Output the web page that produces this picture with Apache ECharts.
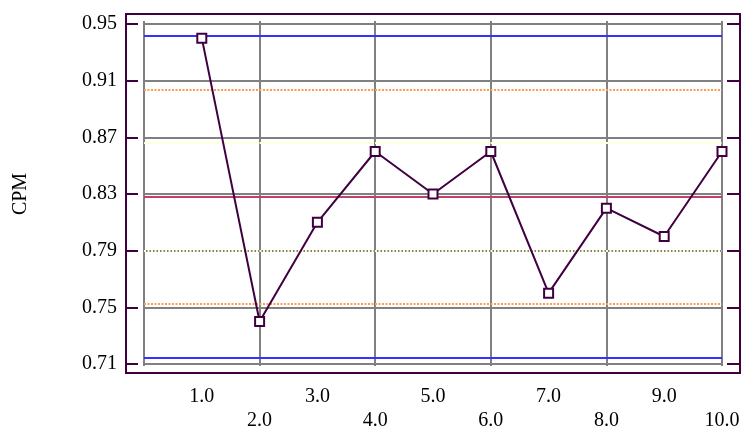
<!DOCTYPE html>
<html>
<head>
<meta charset="utf-8">
<style>
  html, body { margin: 0; padding: 0; background: #ffffff; }
  #chart { width: 744px; height: 428px; }
</style>
<script src="https://cdn.jsdelivr.net/npm/echarts@6/dist/echarts.min.js"></script>
</head>
<body>
<div id="chart"></div>
<script>
// Sample numbers and measured CPM values
const samples = [1, 2, 3, 4, 5, 6, 7, 8, 9, 10];
const cpm = [0.94, 0.74, 0.81, 0.86, 0.83, 0.86, 0.76, 0.82, 0.80, 0.86];

// Control chart reference levels
const centerLine = 0.828;
const controlLimits = [0.7145, 0.9415];   // LCL, UCL
const twoSigmaLimits = [0.7523, 0.9037];
const oneSigmaLimits = [0.7902, 0.8665];

// Tick labels
const xTickLabels = ['1.0', '2.0', '3.0', '4.0', '5.0', '6.0', '7.0', '8.0', '9.0', '10.0'];
const yTickLabels = ['0.71', '0.75', '0.79', '0.83', '0.87', '0.91', '0.95'];

const yTicks = yTickLabels.map(Number);
const yMin = yTicks[0];
const yMax = yTicks[yTicks.length - 1];
const yStep = +(yTicks[1] - yTicks[0]).toFixed(4);

const FONT = 'Liberation Serif';
const FONT_SIZE = 20;
const DARK = '#400040';
const GRID = '#808080';

function labelForY(v) {
  const i = Math.round((v - yMin) / yStep);
  return yTickLabels[i] !== undefined ? yTickLabels[i] : '';
}

const chart = echarts.init(document.getElementById('chart'), null, { renderer: 'canvas' });

const yBase = { type: 'value', min: yMin, max: yMax, interval: yStep, splitLine: { show: false } };
const xBase = { type: 'value', min: 0, max: samples[samples.length - 1] };

const refLine = (value, color, type) => ({
  yAxis: value,
  lineStyle: { color: color, width: 2, type: type }
});

chart.setOption({
  animation: false,
  backgroundColor: '#ffffff',
  graphic: [{
    type: 'rect',
    shape: { x: 126, y: 14, width: 614, height: 359 },
    style: { fill: null, stroke: DARK, lineWidth: 2 },
    z: 100
  }],
  grid: [
    // plotting area
    { left: 144, right: 22, top: 24, bottom: 64, outerBoundsMode: 'none', containLabel: false },
    // framed area carrying the outer tick marks (same vertical extent)
    { left: 126, right: 4, top: 24, bottom: 64, outerBoundsMode: 'none', containLabel: false }
  ],
  xAxis: [
    Object.assign({}, xBase, {
      gridIndex: 0,
      position: 'bottom',
      interval: 2,
      axisLine: { show: false },
      axisTick: { show: true, length: 2, lineStyle: { color: GRID, width: 2 } },
      splitLine: { show: true, lineStyle: { color: GRID, width: 2 } },
      axisLabel: {
        margin: 47,
        fontFamily: FONT, fontSize: FONT_SIZE, color: '#000',
        formatter: v => (v > 0 ? xTickLabels[v - 1] : '')
      }
    }),
    Object.assign({}, xBase, {
      gridIndex: 0,
      position: 'bottom',
      interval: 1,
      axisLine: { show: false },
      axisTick: { show: false },
      splitLine: { show: false },
      axisLabel: {
        margin: 23,
        fontFamily: FONT, fontSize: FONT_SIZE, color: '#000',
        formatter: v => (v % 2 === 1 ? xTickLabels[v - 1] : '')
      }
    }),
    Object.assign({}, xBase, {
      gridIndex: 0,
      position: 'top',
      interval: 2,
      axisLine: { show: false },
      axisTick: { show: true, length: 3, lineStyle: { color: GRID, width: 2 } },
      splitLine: { show: false },
      axisLabel: { show: false }
    }),
    Object.assign({}, xBase, {
      gridIndex: 1,
      show: false
    })
  ],
  yAxis: [
    Object.assign({}, yBase, {
      gridIndex: 0,
      position: 'left',
      axisLine: { show: false },
      axisTick: { show: false },
      axisLabel: { show: false },
      splitLine: { show: true, lineStyle: { color: GRID, width: 2 } }
    }),
    Object.assign({}, yBase, {
      gridIndex: 0,
      position: 'right',
      axisLine: { show: false },
      axisTick: { show: true, length: 5, lineStyle: { color: GRID, width: 2 } },
      axisLabel: { show: false }
    }),
    Object.assign({}, yBase, {
      gridIndex: 1,
      position: 'left',
      name: 'CPM',
      nameLocation: 'middle',
      nameGap: 95,
      nameTextStyle: { fontFamily: FONT, fontSize: FONT_SIZE, color: '#000' },
      axisLine: { show: false },
      axisTick: { show: true, inside: true, length: 12, lineStyle: { color: DARK, width: 2 } },
      axisLabel: {
        margin: 9,
        padding: [3, 0, 0, 0],
        fontFamily: FONT, fontSize: FONT_SIZE, color: '#000',
        formatter: labelForY
      }
    }),
    Object.assign({}, yBase, {
      gridIndex: 1,
      position: 'right',
      axisLine: { show: false },
      axisTick: { show: true, inside: true, length: 13, lineStyle: { color: DARK, width: 2 } },
      axisLabel: { show: false }
    })
  ],
  series: [{
    type: 'line',
    xAxisIndex: 0,
    yAxisIndex: 0,
    data: samples.map((s, i) => [s, cpm[i]]),
    symbol: 'rect',
    symbolSize: 9,
    showAllSymbol: true,
    lineStyle: { color: DARK, width: 2 },
    itemStyle: { color: '#ffffff', borderColor: DARK, borderWidth: 2 },
    z: 5,
    markLine: {
      silent: true,
      precision: 4,
      symbol: ['none', 'none'],
      label: { show: false },
      z: 3,
      data: [
        refLine(controlLimits[1], '#3333ff', 'solid'),
        refLine(controlLimits[0], '#3333ff', 'solid'),
        refLine(twoSigmaLimits[1], '#ff9955', [2, 1.5]),
        refLine(twoSigmaLimits[0], '#ff9955', [2, 1.5]),
        refLine(oneSigmaLimits[1], '#ffffcc', [2, 1.5]),
        refLine(oneSigmaLimits[0], '#ffffcc', [2, 1.5]),
        refLine(centerLine, '#c0406a', 'solid')
      ]
    }
  }]
});
</script>
</body>
</html>
